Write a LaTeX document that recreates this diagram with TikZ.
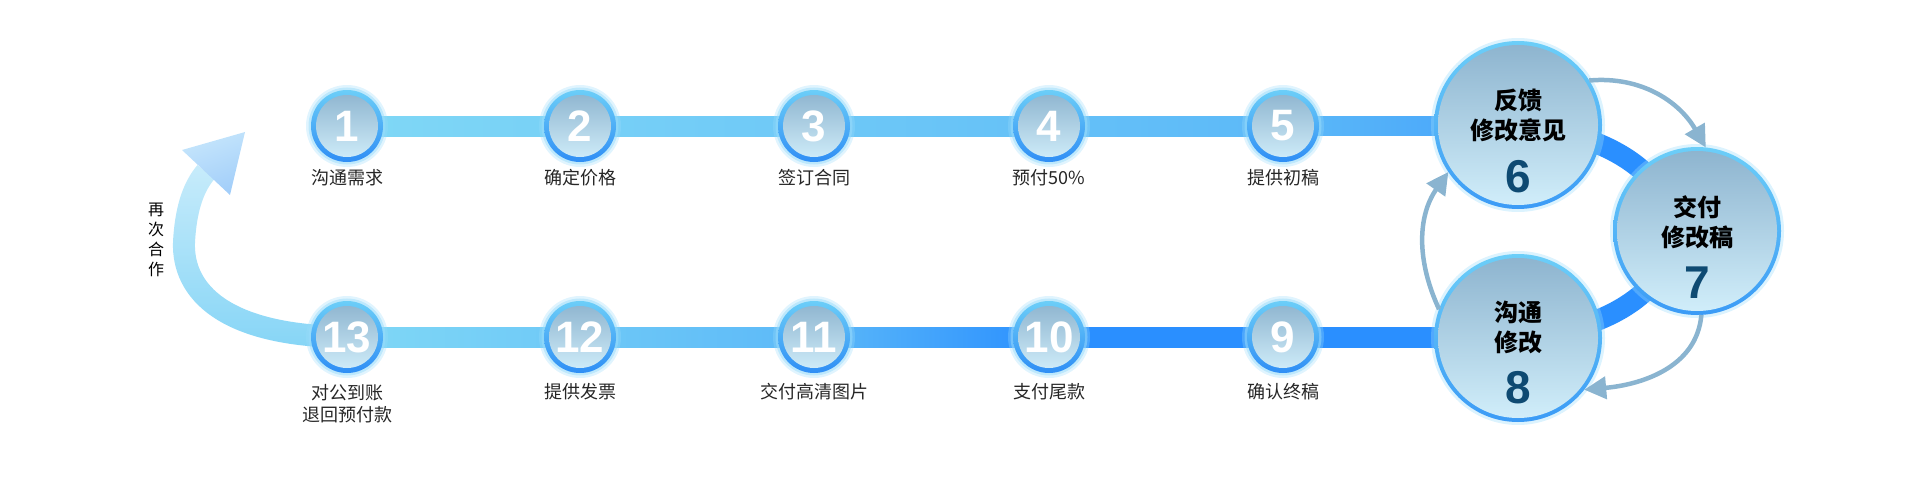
\documentclass[tikz,border=0pt]{standalone}
\usepackage{fontspec}
\setmainfont{Liberation Sans}
\newfontfamily\cjk{Noto Sans CJK SC}
\usetikzlibrary{arrows.meta,fadings,calc}
\definecolor{ringtop}{HTML}{6CCEF8}
\definecolor{ringbot}{HTML}{2F8EF5}
\definecolor{filltop}{HTML}{8CB3CE}
\definecolor{fillbot}{HTML}{D2EFFB}
\definecolor{lineL}{HTML}{80D8F6}
\definecolor{lineM}{HTML}{5CB9F8}
\definecolor{lineR}{HTML}{45A3FB}
\definecolor{deep}{HTML}{2A8FFF}
\definecolor{arr}{HTML}{8AB4D0}
\definecolor{numdark}{HTML}{0E4A72}
\definecolor{glowc}{HTML}{9ADCFB}
\definecolor{bandc}{HTML}{86D5F6}
\definecolor{headA}{HTML}{C6E6FB}
\definecolor{headB}{HTML}{A2CEFA}
\tikzfading[name=upfade, top color=transparent!55, bottom color=transparent!0]
\tikzset{
  smallc/.style={circle, minimum size=72pt, inner sep=0pt, outer sep=0pt,
    top color=ringtop, bottom color=ringbot, text=white,
    font=\fontsize{44}{44}\selectfont\bfseries,
    preaction={draw=glowc, line width=10pt, opacity=0.3},
    preaction={draw=glowc, line width=5pt, opacity=0.5},
    path picture={\shade[top color=filltop,bottom color=fillbot] (path picture bounding box.center) circle (31);}},
  bigc/.style={circle, minimum size=168pt, inner sep=0pt, outer sep=0pt,
    top color=ringtop, bottom color=ringbot!80!ringtop,
    preaction={draw=glowc, line width=6pt, opacity=0.35},
    path picture={\shade[top color=filltop,bottom color=fillbot] (path picture bounding box.center) circle (80);}},
  lab/.style={font=\cjk\fontsize{18}{22}\selectfont, text=black!85, align=center, inner sep=0pt},
  bigtxt/.style={font=\cjk\bfseries\fontsize{24}{30}\selectfont, text=black, align=center, inner sep=0pt},
  bignum/.style={font=\bfseries\fontsize{46}{46}\selectfont, text=numdark, inner sep=0pt},
  garr/.style={draw=arr, line width=4.5pt, -{Triangle[length=22pt,width=22pt]}},
}
\begin{document}
\begin{tikzpicture}[x=1pt,y=-1pt]
\useasboundingbox (0,0) rectangle (1920,503);
% named positions
\coordinate (p1) at (347,126);
\coordinate (p2) at (580,126);
\coordinate (p3) at (814,126);
\coordinate (p4) at (1049,126);
\coordinate (p5) at (1283,126);
\coordinate (p13) at (347,337);
\coordinate (p12) at (580,337);
\coordinate (p11) at (814,337);
\coordinate (p10) at (1049,337);
\coordinate (p9) at (1283,337);
\coordinate (p6) at (1518,125);
\coordinate (p7) at (1697,231);
\coordinate (p8) at (1518,338);
% bands
\shade[left color=lineL, right color=lineM] ($(p1)+(0,-10)$) rectangle ($(p5)+(0,10)$);
\shade[left color=lineM, right color=lineR] ($(p5)+(0,-10)$) rectangle ($(p6)+(0,10)$);
\shade[left color=lineL, right color=lineM] ($(p13)+(0,-10)$) rectangle ($(p11)+(0,10)$);
\shade[left color=lineM, right color=deep] ($(p11)+(0,-10)$) rectangle ($(p10)+(0,10)$);
\fill[deep] ($(p10)+(0,-10)$) rectangle ($(p8)+(0,10)$);
\draw[deep, line width=21pt] (p6) .. controls (1725,145) and (1725,320) .. (p8);
% return band
\coordinate (bandend) at (206,172);
\draw[bandc, line width=22pt, path fading=upfade] (p13) .. controls (225,336) and (182,292) .. (184,242) .. controls (186,205) and (195,185) .. (bandend);
\shade[top color=headA, bottom color=headB, shading angle=20] (182,150) -- (245,132) -- (230,195) -- cycle;
\node[font=\cjk\fontsize{16}{20}\selectfont, align=center, inner sep=0pt] (again) at (156,240) {再\\次\\合\\作};
% small circles
\foreach \i in {1,...,5,9,10,11,12,13} {
  \node[smallc] (c\i) at (p\i) {\i};
}
% big circles
\node[bigc] (c6) at (p6) {};
\node[bigc] (c7) at (p7) {};
\node[bigc] (c8) at (p8) {};
\node[bigtxt] (t6) at ($(c6.center)+(0,-10)$) {反馈\\修改意见};
\node[bignum] (n6) at ($(c6.center)+(0,52)$) {6};
\node[bigtxt] (t7) at ($(c7.center)+(0,-9)$) {交付\\修改稿};
\node[bignum] (n7) at ($(c7.center)+(0,52)$) {7};
\node[bigtxt] (t8) at ($(c8.center)+(0,-11)$) {沟通\\修改};
\node[bignum] (n8) at ($(c8.center)+(0,50)$) {8};
% gray arrows
\draw[garr] (c6.32) to[out=5,in=120] (c7.84);
\draw[garr] (c7.-87) to[out=-95,in=5] (c8.-38);
\draw[garr] (c8.160) to[out=115,in=-125] (c6.-146);
% labels
\node[lab] (l1) at ($(c1.center)+(0,52)$) {沟通需求};
\node[lab] (l2) at ($(c2.center)+(0,52)$) {确定价格};
\node[lab] (l3) at ($(c3.center)+(0,52)$) {签订合同};
\node[lab] (l4) at ($(c4.center)+(0,52)$) {预付50\%};
\node[lab] (l5) at ($(c5.center)+(0,52)$) {提供初稿};
\node[lab] (l13) at ($(c13.center)+(0,67)$) {对公到账\\退回预付款};
\node[lab] (l12) at ($(c12.center)+(0,55)$) {提供发票};
\node[lab] (l11) at ($(c11.center)+(0,55)$) {交付高清图片};
\node[lab] (l10) at ($(c10.center)+(0,55)$) {支付尾款};
\node[lab] (l9) at ($(c9.center)+(0,55)$) {确认终稿};
\end{tikzpicture}
\end{document}
